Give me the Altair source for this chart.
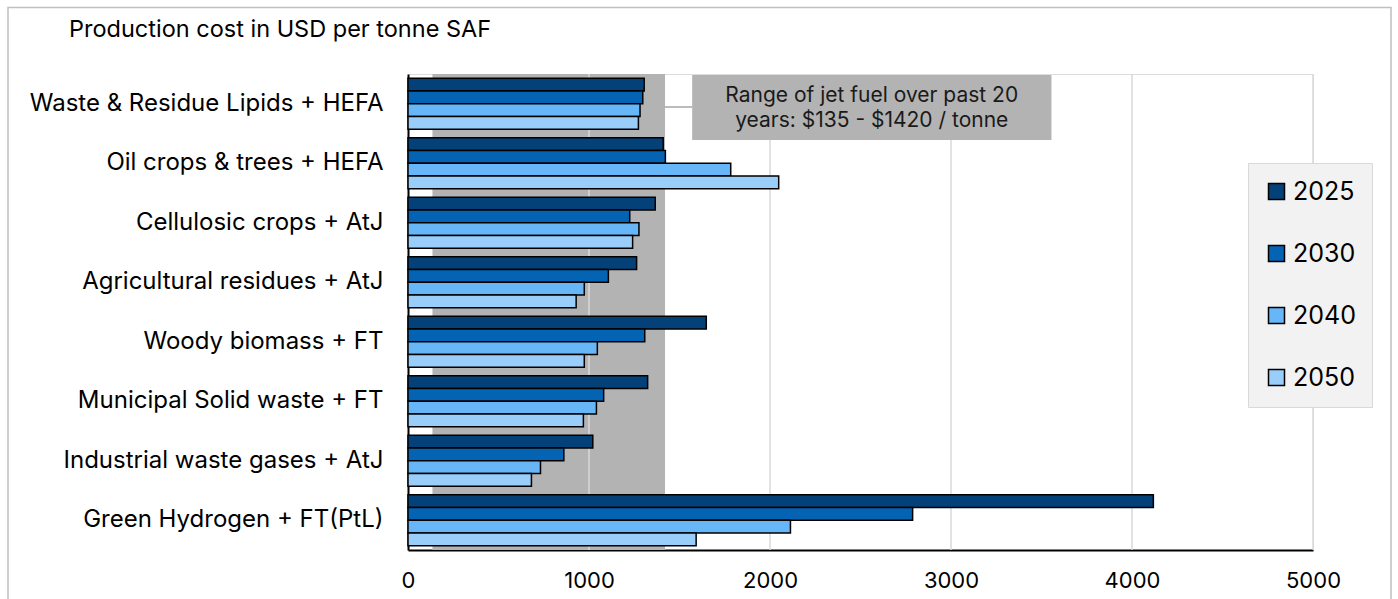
import altair as alt
import pandas as pd

# Production pathways (top to bottom) and cost per tonne SAF for each year
categories = [
    "Waste & Residue Lipids + HEFA",
    "Oil crops & trees + HEFA",
    "Cellulosic crops + AtJ",
    "Agricultural residues + AtJ",
    "Woody biomass + FT",
    "Municipal Solid waste + FT",
    "Industrial waste gases + AtJ",
    "Green Hydrogen + FT(PtL)",
]
years = ["2025", "2030", "2040", "2050"]
cost_2025 = [1305, 1410, 1366, 1263, 1648, 1324, 1021, 4118]
cost_2030 = [1297, 1422, 1225, 1107, 1308, 1081, 861, 2788]
cost_2040 = [1282, 1783, 1276, 974, 1046, 1041, 732, 2113]
cost_2050 = [1273, 2048, 1241, 929, 974, 969, 682, 1592]
year_colors = ["#044179", "#0563B4", "#66B6F8", "#99CEFB"]

# Historic jet fuel price range (USD / tonne)
jet_low, jet_high = 135, 1420
note_lines = ["Range of jet fuel over past 20", "years:  $135 - $1420 / tonne"]
grid_values = [1000, 2000, 3000, 4000, 5000]
tick_values = [0, 1000, 2000, 3000, 4000, 5000]

FONT = "Inter"
W, H = 905, 476

rows = []
for series, vals in zip(years, [cost_2025, cost_2030, cost_2040, cost_2050]):
    for cat, v in zip(categories, vals):
        rows.append({"pathway": cat, "year": series, "cost": v})
bars_df = pd.DataFrame(rows)

x_scale = alt.Scale(domain=[0, 5000], nice=False, zero=True)

border = alt.Chart(pd.DataFrame({"a": [0]})).mark_rect(
    fill=None, stroke="#c0c0c0", strokeWidth=1.5
).encode(
    x=alt.value(-400), x2=alt.value(983), y=alt.value(-66.5), y2=alt.value(H + 120)
)

band = alt.Chart(pd.DataFrame({"lo": [jet_low], "hi": [jet_high]})).mark_rect(
    color="#b3b3b3"
).encode(
    x=alt.X("lo:Q", scale=x_scale), x2="hi:Q", y=alt.value(0), y2=alt.value(H)
)

grid = alt.Chart(pd.DataFrame({"g": grid_values})).mark_rule(
    color="#d9d9d9", strokeWidth=1.5
).encode(
    x=alt.X("g:Q", scale=x_scale), y=alt.value(0), y2=alt.value(H)
)

note_df = pd.DataFrame({"x0": [jet_high], "x1": [1570], "x2": [3555], "xc": [2562]})
leader = alt.Chart(note_df).mark_rule(color="#a6a6a6", strokeWidth=1.5).encode(
    x=alt.X("x0:Q", scale=x_scale), x2="x1:Q", y=alt.value(33)
)
note_box = alt.Chart(note_df).mark_rect(color="#b3b3b3").encode(
    x=alt.X("x1:Q", scale=x_scale), x2="x2:Q", y=alt.value(1), y2=alt.value(66)
)
note_text = alt.Chart(note_df).mark_text(
    font=FONT, fontSize=21, color="#1a1a1a", align="center", baseline="middle",
    lineHeight=25, text=note_lines,
).encode(
    x=alt.X("xc:Q", scale=x_scale), y=alt.value(21.5)
)

bars = alt.Chart(bars_df).mark_bar(stroke="black", strokeWidth=1.5).encode(
    x=alt.X(
        "cost:Q", scale=x_scale, title=None,
        axis=alt.Axis(
            values=tick_values, format="d", grid=False, ticks=False,
            domainColor="black", domainWidth=2, labelFont=FONT, labelFontSize=22,
            labelColor="black", labelPadding=20, labelFlush=False,
        ),
    ),
    y=alt.Y(
        "pathway:N", sort=categories, title=None,
        scale=alt.Scale(paddingInner=0.14, paddingOuter=0.07),
        axis=alt.Axis(
            ticks=False, domainColor="black", domainWidth=2, labelFont=FONT,
            labelFontSize=24, labelColor="black", labelPadding=25, labelLimit=600,
        ),
    ),
    yOffset=alt.YOffset("year:N", sort=years, scale=alt.Scale(paddingInner=0, paddingOuter=0)),
    color=alt.Color(
        "year:N", sort=years, scale=alt.Scale(domain=years, range=year_colors),
        legend=alt.Legend(
            title=None, orient="none", legendX=840, legendY=89,
            fillColor="#f2f2f2", strokeColor="#d9d9d9", padding=16,
            rowPadding=36, symbolType="square", symbolSize=256,
            symbolStrokeColor="black", symbolStrokeWidth=1.5,
            labelFont=FONT, labelFontSize=25, labelColor="black", labelOffset=4,
        ),
    ),
)

title = alt.Chart(pd.DataFrame({"a": [0]})).mark_text(
    font=FONT, fontSize=23.5, color="black", align="left", baseline="middle",
    text="Production cost in USD per tonne SAF",
).encode(x=alt.value(-339), y=alt.value(-44))

chart = alt.layer(
    border, band, grid, leader, note_box, note_text, bars, title
).properties(
    width=W, height=H,
    autosize=alt.AutoSizeParams(type="none"),
    padding={"left": 408, "top": 74, "right": 85, "bottom": 49},
).configure_view(stroke=None).configure(background="white")

chart.save("out.html", embed_options={"renderer": "svg", "actions": False})
